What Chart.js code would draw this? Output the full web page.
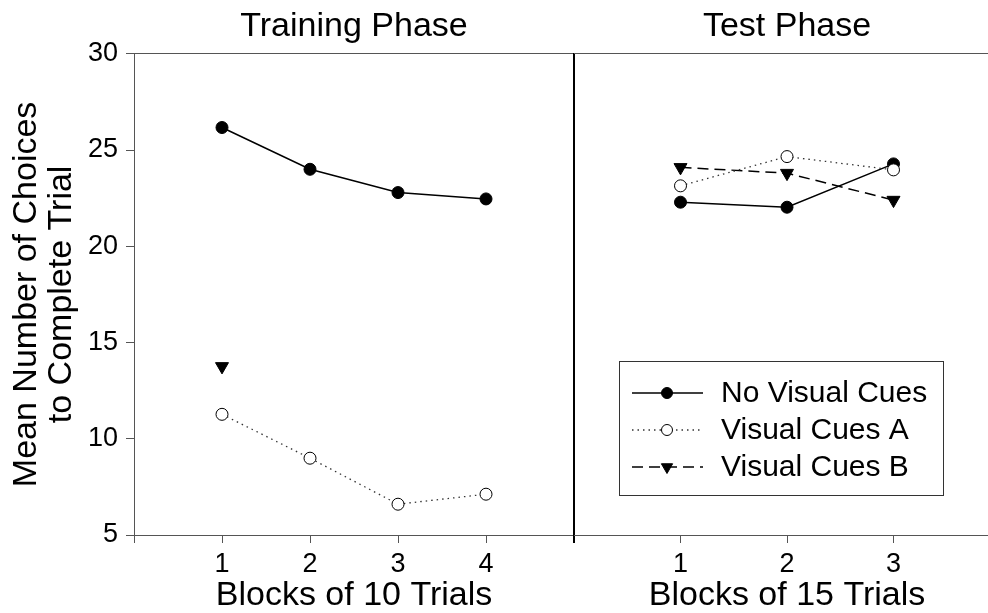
<!DOCTYPE html>
<html>
<head>
<meta charset="utf-8">
<script src="https://cdn.jsdelivr.net/npm/chart.js@4.4.0/dist/chart.umd.min.js"></script>
<style>
  html, body { margin: 0; padding: 0; background: #fff; overflow: hidden; }
  #wrap { position: relative; width: 988px; height: 613px; overflow: hidden; }
  canvas { position: absolute; top: 0; }
</style>
</head>
<body>
<div id="wrap">
  <canvas id="train" width="580" height="613" style="left:0"></canvas>
  <canvas id="test" width="426" height="613" style="left:574px"></canvas>
</div>
<script>
// datos
const trainingBlocks = [1, 2, 3, 4];
const testBlocks = [1, 2, 3];
const trainNoCues = [26.17, 24.0, 22.79, 22.46];
const trainCuesA = [11.27, 8.99, 6.6, 7.12];
const trainCuesB = [13.76, null, null, null];
const testNoCues = [22.29, 22.03, 24.28];
const testCuesA = [23.14, 24.66, 23.97];
const testCuesB = [24.1, 23.8, 22.4];
const seriesNames = ['No Visual Cues', 'Visual Cues A', 'Visual Cues B'];
const yTicks = [5, 10, 15, 20, 25, 30];
const trainXTicks = [0, 1, 2, 3, 4, 5];
const testXTicks = [1, 2, 3];

const FONT = "'Liberation Sans', Arial, sans-serif";
Chart.defaults.font.family = FONT;
Chart.defaults.color = '#000';

// estilo de cada serie (linea + marcador)
const seriesStyles = [
  { borderColor: '#000', borderWidth: 1.5, borderDash: [], pointStyle: 'circle', pointRotation: 0,
    pointRadius: 6, pointBackgroundColor: '#000', pointBorderColor: '#000', pointBorderWidth: 1, order: 1 },
  { borderColor: '#333', borderWidth: 1.3, borderDash: [1.5, 4], pointStyle: 'circle', pointRotation: 0,
    pointRadius: 6, pointBackgroundColor: '#fff', pointBorderColor: '#000', pointBorderWidth: 1, order: 0 },
  { borderColor: '#000', borderWidth: 1.5, borderDash: [11, 6], pointStyle: 'triangle', pointRotation: 180,
    pointRadius: 7.5, pointBackgroundColor: '#000', pointBorderColor: '#000', pointBorderWidth: 1, order: 2 }
];

function buildDatasets(blocks, seriesList) {
  return seriesList.map((values, i) => ({
    label: seriesNames[i],
    data: blocks.map((b, j) => ({ x: b, y: values[j] })),
    fill: false,
    tension: 0,
    spanGaps: false,
    ...seriesStyles[i]
  }));
}

// leyenda con recuadro dentro del panel derecho
const boxLegend = {
  id: 'boxLegend',
  afterDatasetsDraw(chart) {
    const ctx = chart.ctx;
    const ca = chart.chartArea;
    const bx = ca.left + 45, by = 361, bw = 324, bh = 134;
    ctx.save();
    ctx.fillStyle = '#fff';
    ctx.fillRect(bx, by, bw, bh);
    ctx.strokeStyle = '#333';
    ctx.lineWidth = 1;
    ctx.setLineDash([]);
    ctx.strokeRect(bx + 0.5, by + 0.5, bw, bh);
    chart.data.datasets.forEach((ds, i) => {
      const y = by + 32 + i * 37;
      ctx.strokeStyle = ds.borderColor;
      ctx.lineWidth = ds.borderWidth;
      ctx.setLineDash(ds.borderDash);
      ctx.beginPath();
      ctx.moveTo(bx + 13, y);
      ctx.lineTo(bx + 84, y);
      ctx.stroke();
      ctx.setLineDash([]);
      ctx.fillStyle = ds.pointBackgroundColor;
      ctx.strokeStyle = ds.pointBorderColor;
      ctx.lineWidth = 1;
      Chart.helpers.drawPoint(ctx, {
        pointStyle: ds.pointStyle, rotation: ds.pointRotation,
        radius: ds.pointStyle === 'triangle' ? 6.5 : 5.5, borderWidth: 1
      }, bx + 48, y);
      ctx.fillStyle = '#000';
      ctx.font = '30px ' + FONT;
      ctx.textBaseline = 'middle';
      ctx.textAlign = 'left';
      ctx.fillText(ds.label, bx + 102, y + 1);
    });
    ctx.restore();
  }
};

function makePanel(canvasId, opts) {
  const axisGrey = '#555';
  const scales = {
    x: {
      type: 'linear', position: 'bottom', min: 0, max: opts.xMax,
      afterBuildTicks: s => { s.ticks = opts.xTicks.map(v => ({ value: v })); },
      afterFit: s => { s.height = 78; },
      grid: {
        drawOnChartArea: false, drawTicks: true, tickLength: 8,
        color: c => (c.tick && c.tick.value === 5) ? '#000' : axisGrey,
        lineWidth: c => (c.tick && c.tick.value === 5) ? 2 : 1
      },
      border: { display: true, color: axisGrey, width: 1 },
      ticks: {
        font: { size: 27 }, color: '#000', padding: 5, maxRotation: 0, autoSkip: false,
        callback: v => opts.blocks.includes(v) ? String(v) : ''
      },
      title: {
        display: true, text: opts.xTitle, color: '#000',
        font: { size: 34, lineHeight: 1.0 }, padding: { top: 0, bottom: 0 }
      }
    },
    xt: {
      axis: 'x', type: 'linear', position: 'top', min: 0, max: opts.xMax,
      afterFit: s => { s.height = 0; },
      ticks: { display: false },
      grid: { drawOnChartArea: false, drawTicks: false },
      border: { display: true, color: axisGrey, width: 1 }
    },
    y: {
      type: 'linear', position: 'left', min: 5, max: 30,
      display: opts.showY,
      afterBuildTicks: s => { s.ticks = yTicks.map(v => ({ value: v })); },
      afterFit: s => { s.width = opts.showY ? 134 : 0; },
      grid: { drawOnChartArea: false, drawTicks: true, tickLength: 8, color: axisGrey },
      border: { display: true, color: axisGrey, width: 1 },
      ticks: { font: { size: 27 }, color: '#000', padding: 8 },
      title: {
        display: true, text: ['Mean Number of Choices', 'to Complete Trial'], color: '#000',
        font: { size: 34, lineHeight: 1.03 }, padding: { top: 9, bottom: 0 }
      }
    }
  };
  if (opts.divider) {
    // linea vertical que separa las dos fases
    scales.yr = {
      axis: 'y', type: 'linear', position: 'right', min: 5, max: 30,
      afterFit: s => { s.width = 0; },
      ticks: { display: false },
      grid: { drawOnChartArea: false, drawTicks: false },
      border: { display: true, color: '#000', width: 2 }
    };
  }
  return new Chart(document.getElementById(canvasId), {
    type: 'line',
    data: { datasets: buildDatasets(opts.blocks, opts.series) },
    options: {
      responsive: false,
      animation: false,
      devicePixelRatio: 1,
      layout: { autoPadding: false, padding: { left: 0, right: opts.padRight, top: 0, bottom: 0 } },
      scales: scales,
      plugins: {
        legend: { display: false },
        tooltip: { enabled: false },
        title: {
          display: true, text: opts.title, fullSize: false, color: '#000',
          font: { size: 34, weight: 'normal', lineHeight: 1.2 },
          padding: { top: 6, bottom: 7 }
        }
      }
    },
    plugins: opts.legend ? [boxLegend] : []
  });
}

makePanel('train', {
  blocks: trainingBlocks, series: [trainNoCues, trainCuesA, trainCuesB],
  xMax: 5, xTicks: trainXTicks, title: 'Training Phase', xTitle: 'Blocks of 10 Trials',
  showY: true, divider: true, legend: false, padRight: 6
});
makePanel('test', {
  blocks: testBlocks, series: [testNoCues, testCuesA, testCuesB],
  xMax: 4, xTicks: testXTicks, title: 'Test Phase', xTitle: 'Blocks of 15 Trials',
  showY: false, divider: false, legend: true, padRight: 0
});
</script>
</body>
</html>
